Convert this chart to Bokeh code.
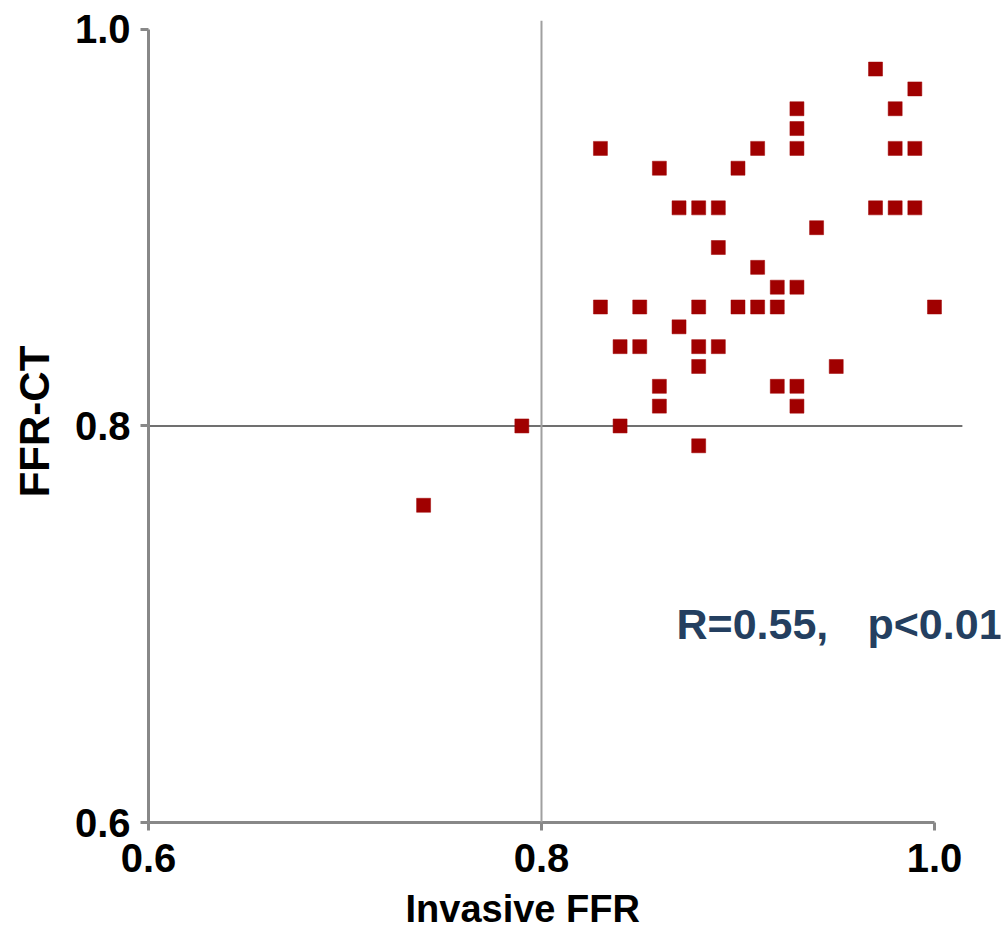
from bokeh.plotting import figure
from bokeh.models import Span, Label, Range1d, Title
from bokeh.embed import file_html
from bokeh.resources import INLINE

# Data
invasive_ffr = [0.83, 0.83, 0.84, 0.84, 0.85, 0.85, 0.86, 0.86, 0.86, 0.87,
                0.87, 0.88, 0.88, 0.88, 0.88, 0.88, 0.89, 0.89, 0.89, 0.90,
                0.90, 0.91, 0.91, 0.91, 0.92, 0.92, 0.92, 0.93, 0.93, 0.93,
                0.93, 0.93, 0.93, 0.94, 0.95, 0.97, 0.97, 0.98, 0.98, 0.98,
                0.99, 0.99, 0.99, 1.00, 0.79, 0.74]
ffr_ct = [0.94, 0.86, 0.84, 0.80, 0.86, 0.84, 0.93, 0.82, 0.81, 0.91,
          0.85, 0.91, 0.86, 0.84, 0.83, 0.79, 0.91, 0.89, 0.84, 0.93,
          0.86, 0.94, 0.88, 0.86, 0.87, 0.86, 0.82, 0.96, 0.95, 0.94,
          0.87, 0.82, 0.81, 0.90, 0.83, 0.98, 0.91, 0.96, 0.94, 0.91,
          0.97, 0.94, 0.91, 0.86, 0.80, 0.76]
tick_values = [0.6, 0.8, 1.0]
cutoff = 0.8
x_title = "Invasive FFR"
y_title = "FFR-CT"
stats_r = "R=0.55,"
stats_p = "p<0.01"

FONT = "Liberation Sans"

p = figure(width=1003, height=941, output_backend="svg", toolbar_location=None,
           x_range=Range1d(0.6, 1.0336), y_range=Range1d(0.6, 1.0045),
           min_border_left=148, min_border_right=3, min_border_top=20,
           min_border_bottom=119)
p.outline_line_color = None
p.xgrid.visible = False
p.ygrid.visible = False

for ax in (p.xaxis[0], p.yaxis[0]):
    ax.bounds = (0.6, 1.0)
    ax.ticker = tick_values
    ax.axis_line_color = "#888888"
    ax.axis_line_width = 3
    ax.major_tick_line_color = "#888888"
    ax.major_tick_line_width = 3
    ax.major_tick_in = 0
    ax.major_tick_out = 8
    ax.minor_tick_line_color = None
    ax.major_label_text_font = FONT
    ax.major_label_text_font_style = "bold"
    ax.major_label_text_font_size = "40px"
    ax.major_label_text_color = "black"
    ax.axis_label_text_font = FONT
    ax.axis_label_text_font_style = "bold"
    ax.axis_label_text_color = "black"

p.xaxis[0].major_label_overrides = {0.6: "0.6", 0.8: "0.8", 1.0: "1.0"}
p.yaxis[0].major_label_overrides = {0.6: "0.6", 0.8: "0.8", 1.0: "1.0"}
p.yaxis[0].axis_label = y_title
p.yaxis[0].axis_label_text_font_size = "42px"
p.xaxis[0].major_label_standoff = 13
p.yaxis[0].major_label_standoff = 10
p.yaxis[0].axis_label_standoff = 14

# x-axis title placed below the axis, offset to match the reference position
p.add_layout(Title(text=x_title, align="left", offset=257, standoff=23,
                   vertical_align="bottom",
                   text_font=FONT, text_font_style="bold", text_font_size="38px",
                   text_color="black"), "below")

# reference lines at the 0.8 cutoff
p.add_layout(Span(location=cutoff, dimension="height", line_color="#a0a0a0", line_width=2))
p.segment(x0=[0.6], x1=[1.0142], y0=[cutoff], y1=[cutoff], line_color="#707070", line_width=2)

p.scatter(invasive_ffr, ffr_ct, marker="square", size=14,
          fill_color="#a00000", line_color="#a00000", line_width=0.5)

for txt, xpos in ((stats_r, 0.8687), (stats_p, 0.9659)):
    p.add_layout(Label(x=xpos, y=0.70, text=txt, text_align="left",
                       text_baseline="middle", text_font=FONT, text_font_style="bold",
                       text_font_size="43px", text_color="#243f60"))

open("out.html", "w").write(file_html(p, INLINE))
